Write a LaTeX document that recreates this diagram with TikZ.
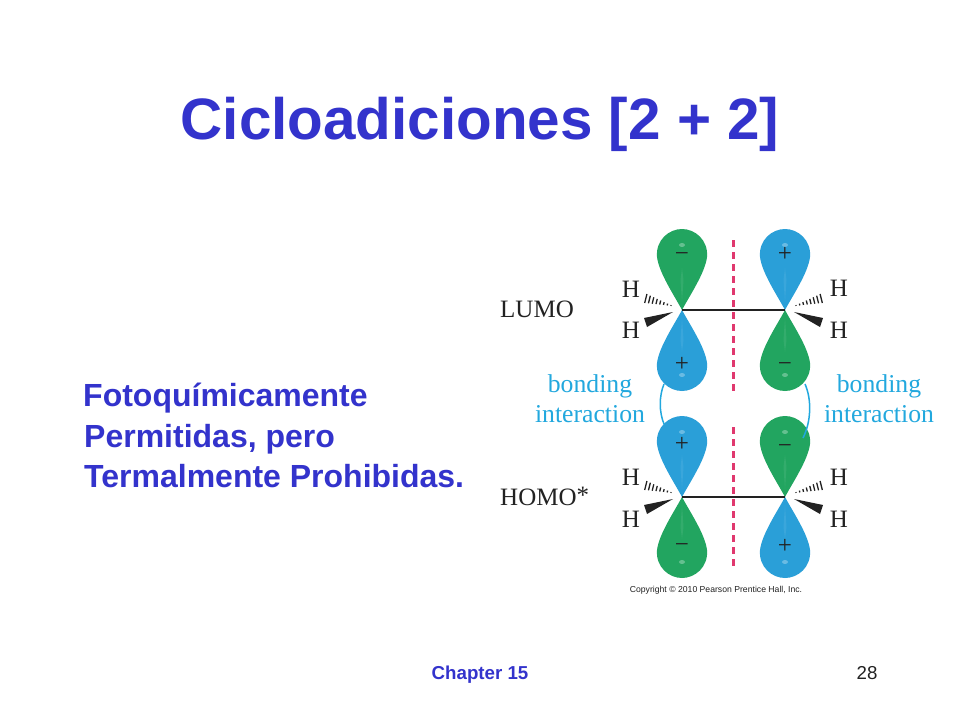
\documentclass[tikz,border=0pt]{standalone}
\usepackage{fontspec}
\setmainfont{Liberation Serif}
\newfontfamily\arialfont{Liberation Sans}
\definecolor{titleblue}{HTML}{3333CC}
\definecolor{lobegreen}{HTML}{2FB56E}
\definecolor{lobegreenD}{HTML}{22A560}
\definecolor{lobeblue}{HTML}{3AAEE4}
\definecolor{lobeblueD}{HTML}{2A9FD8}
\definecolor{labelblue}{HTML}{22A8DE}
\definecolor{crimsondash}{HTML}{E0386E}
\definecolor{inkgray}{HTML}{222222}
\tikzset{
  titletext/.style={font=\arialfont\bfseries\fontsize{58.4}{60}\selectfont,text=titleblue,inner sep=0pt},
  bodytext/.style={font=\arialfont\bfseries\fontsize{32}{36}\selectfont,text=titleblue,inner sep=0pt,anchor=base west},
  foottext/.style={font=\arialfont\fontsize{18.7}{18.7}\selectfont,inner sep=0pt,anchor=base},
  serif/.style={font=\fontsize{25}{25}\selectfont,text=inkgray,inner sep=0pt},
  bondlabel/.style={font=\fontsize{25.7}{30}\selectfont,text=labelblue,inner sep=0pt,align=center},
  signtext/.style={font=\fontsize{25}{25}\selectfont,text=inkgray,inner sep=0pt},
  bondline/.style={draw=inkgray,line width=1.4pt},
  dashfill/.style={fill=crimsondash,draw=none},
  linkline/.style={draw=labelblue,line width=1.5pt},
  copytext/.style={font=\arialfont\fontsize{8.65}{8.65}\selectfont,text=inkgray,inner sep=0pt},
}
% \lobe{x}{y}{+1 up / -1 down}{colour}{edge colour}
\newcommand{\lobe}[5]{%
  \begin{scope}[shift={(#1,#2)},yscale=#3]
    \path[left color=#5,middle color=#4,right color=#5]
      (0,0) .. controls (-8,-15) and (-23,-37) .. (-25,-53)
      .. controls (-26.5,-70) and (-13,-81) .. (0,-81)
      .. controls (13,-81) and (26.5,-70) .. (25,-53)
      .. controls (23,-37) and (8,-15) .. (0,0) -- cycle;
    \fill[white,opacity=.3] (0,-65) ellipse (3pt and 2pt);
    \fill[white,opacity=.08] (0,-8) -- (-1.5,-30) -- (0,-42) -- (1.5,-30) -- cycle;
  \end{scope}}
% \substit{axis x}{axis y}{+1 left side / -1 right side}
\newcommand{\substit}[3]{%
  \begin{scope}[shift={(#1,#2)},xscale=#3]
    \fill[inkgray] (-9,2) -- (-38,8) -- (-35,17) -- cycle;
    \foreach \t/\h in {0/.4,1/.9,2/1.4,3/2,4/2.6,5/3.2,6/3.8,7/4.5}{
      \draw[inkgray,line width=1.3pt]
        ({-11-\t*3.6-\h*.25},{-4.5-\t*1.0+\h}) -- ({-11-\t*3.6+\h*.25},{-4.5-\t*1.0-\h});
    }
  \end{scope}}
\begin{document}
\begin{tikzpicture}[x=1pt,y=-1pt]
\useasboundingbox (0,0) rectangle (960,720);
\fill[white] (0,0) rectangle (960,720);

\node[titletext,anchor=base] (title) at (480,139) {Cicloadiciones [2 + 2]};

\node[bodytext] (l1) at (83,406) {Fotoquímicamente};
\node[bodytext] (l2) at (84,447) {Permitidas, pero};
\node[bodytext] (l3) at (84,487) {Termalmente Prohibidas.};

\foreach \y in {240,252,264,276,288,300,312,324,336,348,360,372,384}{
  \fill[dashfill] (732.3,\y) rectangle (734.6,\y+7);
}
\foreach \y in {427,439,451,463,475,487,499,511,523,535,547,559}{
  \fill[dashfill] (732.3,\y) rectangle (734.6,\y+7);
}

\lobe{682}{310}{1}{lobegreen}{lobegreenD}
\lobe{682}{310}{-1}{lobeblue}{lobeblueD}
\lobe{785}{310}{1}{lobeblue}{lobeblueD}
\lobe{785}{310}{-1}{lobegreen}{lobegreenD}
\lobe{682}{497}{1}{lobeblue}{lobeblueD}
\lobe{682}{497}{-1}{lobegreen}{lobegreenD}
\lobe{785}{497}{1}{lobegreen}{lobegreenD}
\lobe{785}{497}{-1}{lobeblue}{lobeblueD}

\coordinate (a1) at (682,310);
\coordinate (b1) at (785,310);
\coordinate (a2) at (682,497);
\coordinate (b2) at (785,497);
\draw[bondline] (a1) -- (b1);
\draw[bondline] (a2) -- (b2);

\coordinate (la) at (664,384);
\coordinate (lb) at (664,424);
\draw[linkline] (la) .. controls (659,396) and (659,412) .. (lb);
\coordinate (ra) at (805,384);
\coordinate (rb) at (803,438);
\draw[linkline] (ra) .. controls (812,400) and (811,422) .. (rb);

\substit{682}{310}{1}
\substit{785}{310}{-1}
\substit{682}{497}{1}
\substit{785}{497}{-1}

\node[serif] (h1) at (631,289) {H};
\node[serif] (h2) at (631,330) {H};
\node[serif] (h3) at (839,288) {H};
\node[serif] (h4) at (839,330) {H};
\node[serif] (h5) at (631,477) {H};
\node[serif] (h6) at (631,519) {H};
\node[serif] (h7) at (839,477) {H};
\node[serif] (h8) at (839,519) {H};

\node[serif,anchor=base west] (lumo) at (500,317) {LUMO};
\node[serif,anchor=base west] (homo) at (500,505) {HOMO\raisebox{2pt}{*}};

\node[bondlabel] (bl) at (590,399) {bonding\\interaction};
\node[bondlabel] (br) at (879,399) {bonding\\interaction};

\node[signtext] (s1) at (682,257) {−};
\node[signtext] (s2) at (682,364) {+};
\node[signtext] (s3) at (785,254) {+};
\node[signtext] (s4) at (785,367) {−};
\node[signtext] (s5) at (682,444) {+};
\node[signtext] (s6) at (682,548) {−};
\node[signtext] (s7) at (785,449) {−};
\node[signtext] (s8) at (785,546) {+};

\node[copytext,anchor=base] (copy) at (716,592) {Copyright © 2010 Pearson Prentice Hall, Inc.};

\node[foottext,text=titleblue,font=\arialfont\bfseries\fontsize{18.7}{18.7}\selectfont] (chap) at (480,679) {Chapter 15};
\node[foottext,text=inkgray] (num) at (867,679) {28};
\end{tikzpicture}
\end{document}
